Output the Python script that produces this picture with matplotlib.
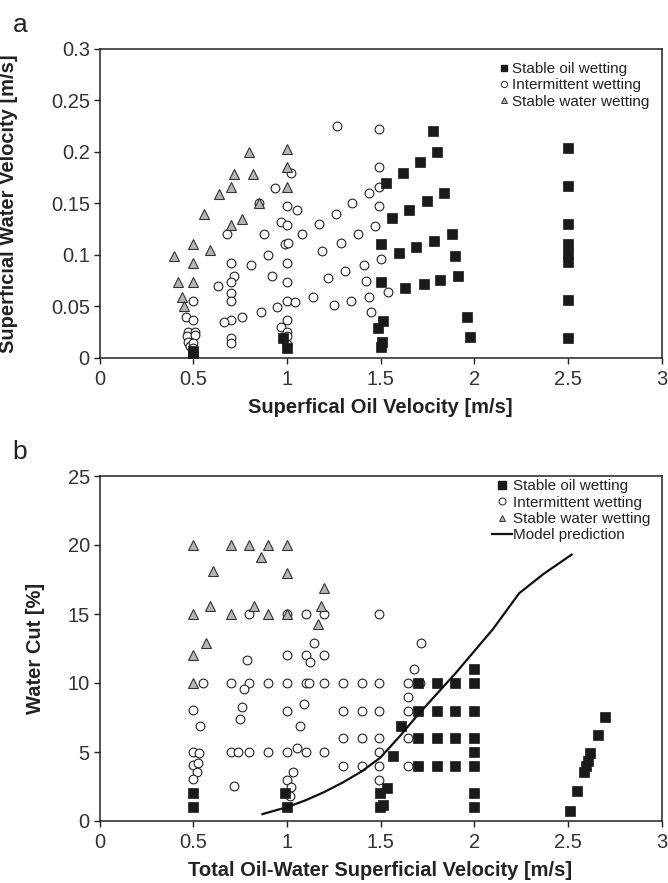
import matplotlib
matplotlib.use("Agg")
import matplotlib.pyplot as plt
from matplotlib.lines import Line2D

plt.rcParams['font.family'] = ['Liberation Sans', 'DejaVu Sans']

# ---------------- Panel a data ----------------
a_oil_x = [0.50, 0.50, 0.98, 1.00, 1.515, 1.485, 1.51, 1.50,
           1.78, 1.80, 1.71, 1.62, 1.53, 1.84, 1.75, 1.65, 1.56,
           1.88, 1.785, 1.69, 1.60, 1.50, 1.90, 1.915, 1.82, 1.73, 1.63, 1.50,
           1.96, 1.98, 2.5, 2.5, 2.5, 2.5, 2.5, 2.5, 2.5, 2.5]
a_oil_y = [0.007, 0.002, 0.019, 0.010, 0.036, 0.029, 0.016, 0.011,
           0.220, 0.200, 0.190, 0.180, 0.170, 0.160, 0.152, 0.144, 0.136,
           0.120, 0.114, 0.1075, 0.102, 0.111, 0.099, 0.080, 0.076, 0.072, 0.068, 0.0735,
           0.040, 0.020, 0.204, 0.167, 0.130, 0.111, 0.101, 0.0935, 0.056, 0.019]

a_int_x = [1.27, 1.49, 1.02, 0.935, 1.49, 1.49, 1.44, 1.49, 1.35, 1.26, 1.00, 1.055,
           0.85, 0.967, 1.00, 1.17, 1.47, 0.68, 0.88, 1.08, 1.38, 0.99, 1.005, 1.29,
           1.19, 1.50, 0.70, 0.90, 1.00, 0.81, 1.41, 0.72, 0.70, 0.92, 1.31, 1.22,
           1.42, 1.00, 0.63, 0.70, 0.70, 0.50, 1.00, 1.045, 1.14, 1.25, 1.34, 1.44,
           1.45, 0.95, 0.86, 0.76, 0.70, 0.665, 0.46, 0.50, 1.00, 0.97, 0.475, 0.51,
           1.00, 0.70, 0.465, 0.51, 0.475, 0.485, 0.50, 0.50, 0.70, 1.00, 1.00, 1.54]
a_int_y = [0.225, 0.222, 0.180, 0.165, 0.185, 0.166, 0.160, 0.148, 0.150, 0.140, 0.148, 0.1437,
           0.150, 0.132, 0.129, 0.130, 0.128, 0.120, 0.120, 0.120, 0.120, 0.111, 0.112, 0.112,
           0.104, 0.096, 0.0925, 0.100, 0.0925, 0.090, 0.090, 0.0796, 0.0735, 0.0796, 0.0845, 0.078,
           0.075, 0.0735, 0.070, 0.0628, 0.0556, 0.0556, 0.0556, 0.0547, 0.0595, 0.0518, 0.0556, 0.0595,
           0.0447, 0.0498, 0.045, 0.040, 0.0369, 0.035, 0.040, 0.037, 0.037, 0.030, 0.025, 0.025,
           0.025, 0.019, 0.021, 0.022, 0.016, 0.012, 0.015, 0.010, 0.0144, 0.014, 0.0216, 0.064]

a_wat_x = [0.80, 1.00, 0.72, 0.82, 1.00, 0.70, 1.00, 0.64, 0.85, 0.56, 0.76, 0.70,
           0.50, 0.59, 0.40, 0.50, 0.42, 0.50, 0.44, 0.45]
a_wat_y = [0.200, 0.203, 0.179, 0.179, 0.185, 0.166, 0.166, 0.159, 0.150, 0.140, 0.135, 0.129,
           0.111, 0.105, 0.099, 0.092, 0.0735, 0.0735, 0.0595, 0.050]

# ---------------- Panel b data ----------------
b_oil_x = [0.50, 0.50, 0.99, 1.00,
           1.70, 1.80, 1.90, 2.00, 2.00, 1.70, 1.80, 1.90, 2.00, 1.607,
           1.70, 1.80, 1.90, 2.00, 2.00, 1.568, 1.70, 1.80, 1.90, 2.00,
           2.00, 2.00, 1.533, 1.497, 1.514, 1.497,
           2.51, 2.55, 2.587, 2.596, 2.608, 2.62, 2.66, 2.70]
b_oil_y = [2.0, 1.0, 2.0, 1.0,
           10, 10, 10, 10, 11.0, 8, 8, 8, 8, 6.9,
           6, 6, 6, 6, 5.0, 4.73, 4, 4, 4, 4,
           2.0, 1.0, 2.4, 2.0, 1.16, 1.0,
           0.72, 2.17, 3.57, 3.98, 4.37, 4.9, 6.23, 7.51]

b_int_x = [0.80, 1.00, 1.10, 1.20, 1.49, 1.145, 1.00, 1.10, 1.20, 1.123, 0.79,
           0.554, 0.70, 0.80, 0.90, 1.00, 1.10, 1.12, 1.20, 1.30, 1.40, 1.49,
           0.77, 0.50, 0.76, 0.75, 1.00, 1.09, 1.30, 1.40, 1.49,
           0.536, 1.07, 1.30, 1.40, 1.49,
           0.50, 0.53, 0.70, 0.74, 0.80, 0.90, 1.00, 1.055, 1.10, 1.20, 1.49,
           0.50, 0.527, 0.52, 1.30, 1.40, 1.49, 0.50, 0.718, 1.00, 1.034, 1.023, 1.017, 1.49,
           1.716, 1.68, 1.645, 1.71, 1.645, 1.645, 1.645, 1.645]
b_int_y = [15, 15, 15, 15, 15, 12.9, 12, 12, 12, 11.5, 11.67,
           10, 10, 10, 10, 10, 10, 10, 10, 10, 10, 10,
           9.54, 8.04, 8.24, 7.37, 8, 8.45, 8, 8, 8,
           6.88, 6.88, 6, 6, 6,
           5, 4.9, 5, 5, 5, 5, 5, 5.3, 5, 5, 5,
           4.06, 4.2, 3.53, 4, 4, 4, 3.02, 2.56, 3, 3.53, 2.49, 1.81, 3,
           12.9, 11.0, 10, 10, 8.96, 8, 6, 4]

b_wat_x = [0.50, 0.70, 0.80, 0.90, 1.00, 0.863, 0.607, 1.00, 1.20, 0.59, 0.826, 1.18,
           0.50, 0.70, 0.90, 1.00, 1.165, 0.57, 0.50, 0.50]
b_wat_y = [20, 20, 20, 20, 20, 19.15, 18.14, 18.0, 16.9, 15.6, 15.6, 15.6,
           15, 15, 15, 15, 14.28, 12.9, 12, 10]

model_x = [0.87, 1.0, 1.1, 1.2, 1.3, 1.4, 1.5, 1.6, 1.7, 1.8, 1.9, 2.0, 2.1, 2.24, 2.37, 2.52]
model_y = [0.5, 1.0, 1.5, 2.1, 2.8, 3.6, 4.6, 6.1, 7.7, 9.2, 10.7, 12.3, 13.9, 16.5, 17.9, 19.3]

x_ticks = [0, 0.5, 1, 1.5, 2, 2.5, 3]
x_ticklabels = ['0', '0.5', '1', '1.5', '2', '2.5', '3']
a_yticks = [0, 0.05, 0.1, 0.15, 0.2, 0.25, 0.3]
a_yticklabels = ['0', '0.05', '0.1', '0.15', '0.2', '0.25', '0.3']
b_yticks = [0, 5, 10, 15, 20, 25]

# ---------------- styles ----------------
SQ = dict(linestyle='none', marker='s', markersize=7.2, markerfacecolor='#1a1a1a',
          markeredgecolor='#1a1a1a', markeredgewidth=0.5)
CI = dict(linestyle='none', marker='o', markersize=6.3, markerfacecolor='white',
          markeredgecolor='#222222', markeredgewidth=0.8)
TR = dict(linestyle='none', marker='^', markersize=7.0, markerfacecolor='#b5b5b5',
          markeredgecolor='#333333', markeredgewidth=0.8)

W, H = 668, 883
fig = plt.figure(figsize=(W / 100, H / 100), dpi=100)

def px_axes(l, t, r, b):
    return fig.add_axes([l / W, 1 - b / H, (r - l) / W, (b - t) / H])

ax_a = px_axes(99.5, 49, 661.5, 358)
ax_b = px_axes(99.5, 476, 661.5, 821)

TXT = '#222222'
for ax in (ax_a, ax_b):
    for s in ax.spines.values():
        s.set_linewidth(1.1)
        s.set_color('#222222')
    ax.tick_params(direction='out', length=4, width=1.0, color='#222222',
                   labelsize=14.5, labelcolor='#333333')
    ax.tick_params(axis='x', pad=5)
    ax.tick_params(axis='y', pad=3)
    ax.set_xlim(0, 3)
    ax.set_xticks(x_ticks)
    ax.set_xticklabels(x_ticklabels)

# Panel a
ax_a.plot(a_int_x, a_int_y, zorder=3, **CI)
ax_a.plot(a_wat_x, a_wat_y, zorder=4, **TR)
ax_a.plot(a_oil_x, a_oil_y, zorder=5, **SQ)
ax_a.set_ylim(0, 0.3)
ax_a.set_yticks(a_yticks)
ax_a.set_yticklabels(a_yticklabels)
ax_a.set_xlabel('Superfical Oil Velocity [m/s]', fontsize=14.5, fontweight='bold',
                color=TXT, labelpad=6)
ax_a.set_ylabel('Superficial Water Velocity [m/s]', fontsize=14.5, fontweight='bold',
                color=TXT)
ax_a.yaxis.set_label_coords(-0.145, 0.5)

ha = [Line2D([], [], linestyle='none', marker='s', markersize=4.5, markerfacecolor='#1a1a1a',
             markeredgecolor='#1a1a1a'),
      Line2D([], [], linestyle='none', marker='o', markersize=4.5, markerfacecolor='white',
             markeredgecolor='#222222', markeredgewidth=0.7),
      Line2D([], [], linestyle='none', marker='^', markersize=4.5, markerfacecolor='#b5b5b5',
             markeredgecolor='#333333', markeredgewidth=0.7)]
la = ['Stable oil wetting', 'Intermittent wetting', 'Stable water wetting']
ax_a.legend(ha, la, loc='upper left', bbox_to_anchor=(0.712, 0.958), frameon=False,
            fontsize=11, handlelength=0.6, handletextpad=0.2, labelspacing=0.15,
            borderpad=0, borderaxespad=0, labelcolor=TXT)

# Panel b
ax_b.plot(b_int_x, b_int_y, zorder=3, **CI)
ax_b.plot(b_wat_x, b_wat_y, zorder=4, **TR)
ax_b.plot(b_oil_x, b_oil_y, zorder=5, **SQ)
ax_b.plot(model_x, model_y, color='#111111', linewidth=1.6, zorder=6)
ax_b.set_ylim(0, 25)
ax_b.set_yticks(b_yticks)
ax_b.set_xlabel('Total Oil-Water Superficial Velocity [m/s]', fontsize=14.5,
                fontweight='bold', color=TXT, labelpad=6)
ax_b.set_ylabel('Water Cut [%]', fontsize=14.5, fontweight='bold', color=TXT)
ax_b.yaxis.set_label_coords(-0.097, 0.5)

hb = [Line2D([], [], linestyle='none', marker='s', markersize=5.5, markerfacecolor='#1a1a1a',
             markeredgecolor='#1a1a1a'),
      Line2D([], [], linestyle='none', marker='o', markersize=5.0, markerfacecolor='white',
             markeredgecolor='#222222', markeredgewidth=0.7),
      Line2D([], [], linestyle='none', marker='^', markersize=5.0, markerfacecolor='#b5b5b5',
             markeredgecolor='#333333', markeredgewidth=0.7),
      Line2D([], [], color='#111111', linewidth=1.6)]
lb = ['Stable oil wetting', 'Intermittent wetting', 'Stable water wetting', 'Model prediction']
ax_b.legend(hb, lb, loc='upper left', bbox_to_anchor=(0.698, 0.99), frameon=False,
            fontsize=11, handlelength=1.3, handletextpad=0.1, labelspacing=0.15,
            borderpad=0, borderaxespad=0, labelcolor=TXT)

fig.text(20 / W, 1 - 25 / H, 'a', fontsize=19, color=TXT, ha='center', va='center')
fig.text(20 / W, 1 - 452 / H, 'b', fontsize=19, color=TXT, ha='center', va='center')

fig.savefig('out.png', dpi=100)
